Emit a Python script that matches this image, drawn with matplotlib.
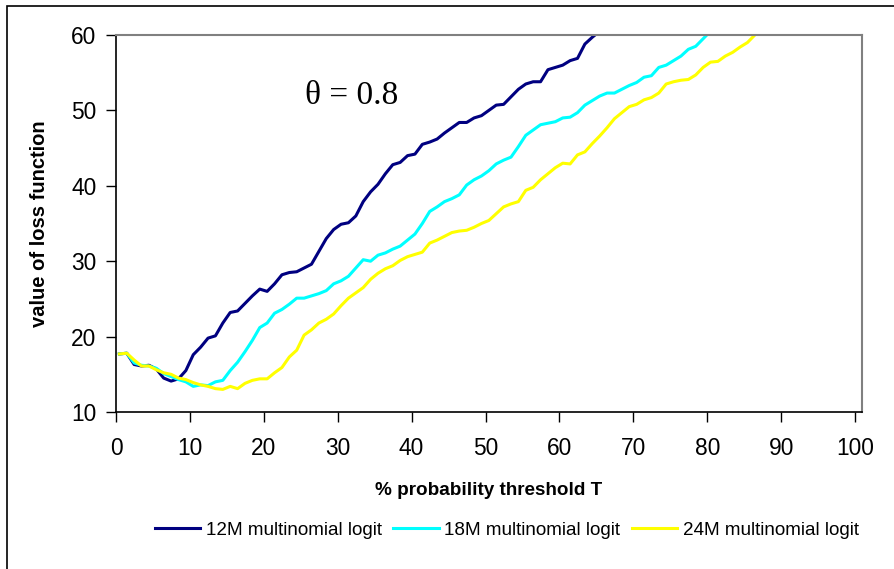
import numpy as np
import matplotlib
matplotlib.use("Agg")
import matplotlib.pyplot as plt
from matplotlib.patches import Rectangle

# loss function values, one per 1% threshold step
loss_12m = [17.7, 17.8, 16.3, 16.1, 16.2, 15.7, 14.5, 14.1, 14.4, 15.5,
            17.6, 18.6, 19.8, 20.1, 21.8, 23.2, 23.4, 24.4, 25.4, 26.3,
            26.0, 27.0, 28.2, 28.5, 28.6, 29.1, 29.6, 31.3, 33.0, 34.2,
            34.9, 35.1, 36.0, 37.9, 39.2, 40.2, 41.6, 42.8, 43.1, 44.0,
            44.2, 45.5, 45.8, 46.2, 47.0, 47.7, 48.4, 48.4, 49.0, 49.3,
            50.0, 50.7, 50.8, 51.8, 52.8, 53.5, 53.8, 53.8, 55.4, 55.7,
            56.0, 56.6, 56.9, 58.8, 59.7, 60.5, 61.0]
loss_18m = [17.7, 17.8, 16.5, 16.2, 16.1, 15.8, 15.1, 14.7, 14.3, 14.0,
            13.4, 13.6, 13.5, 14.0, 14.2, 15.5, 16.6, 18.0, 19.5, 21.2,
            21.8, 23.1, 23.6, 24.3, 25.1, 25.1, 25.4, 25.7, 26.1, 27.0,
            27.4, 28.0, 29.1, 30.2, 30.0, 30.8, 31.1, 31.6, 32.0, 32.8,
            33.6, 35.0, 36.6, 37.2, 37.9, 38.3, 38.8, 40.1, 40.8, 41.3,
            42.0, 42.9, 43.4, 43.8, 45.2, 46.7, 47.4, 48.1, 48.3, 48.5,
            49.0, 49.1, 49.7, 50.7, 51.3, 51.9, 52.3, 52.3, 52.8, 53.3,
            53.7, 54.4, 54.6, 55.7, 56.0, 56.6, 57.2, 58.1, 58.5, 59.5,
            60.5, 61.0]
loss_24m = [17.7, 17.8, 16.9, 16.1, 16.1, 15.6, 15.2, 15.0, 14.5, 14.3,
            13.9, 13.6, 13.4, 13.1, 13.0, 13.4, 13.1, 13.8, 14.2, 14.4,
            14.4, 15.2, 15.9, 17.3, 18.2, 20.2, 20.9, 21.8, 22.3, 23.0,
            24.1, 25.1, 25.8, 26.5, 27.6, 28.4, 29.0, 29.4, 30.1, 30.6,
            30.9, 31.2, 32.4, 32.8, 33.3, 33.8, 34.0, 34.1, 34.5, 35.0,
            35.4, 36.3, 37.2, 37.6, 37.9, 39.4, 39.8, 40.8, 41.6, 42.4,
            43.0, 42.9, 44.1, 44.5, 45.6, 46.6, 47.7, 48.9, 49.7, 50.5,
            50.8, 51.4, 51.7, 52.3, 53.5, 53.8, 54.0, 54.1, 54.7, 55.7,
            56.4, 56.5, 57.2, 57.7, 58.4, 59.0, 60.0, 60.8]

series = [
    ("12M multinomial logit", loss_12m, "#000080"),
    ("18M multinomial logit", loss_18m, "#00FFFF"),
    ("24M multinomial logit", loss_24m, "#FFFF00"),
]

x_ticks = [0, 10, 20, 30, 40, 50, 60, 70, 80, 90, 100]
y_ticks = [10, 20, 30, 40, 50, 60]

plt.rcParams['font.family'] = ['Liberation Sans', 'DejaVu Sans']

fig = plt.figure(figsize=(8.94, 5.69), dpi=100)
ax = fig.add_axes([0.1298, 0.2759, 0.8344, 0.6626])

for name, vals, col in series:
    t = np.arange(len(vals)) + 0.45
    ax.plot(t, vals, color=col, lw=2.2, label=name, solid_joinstyle='round')

ax.set_xlim(0, 100.95)
ax.set_ylim(10, 60)
ax.set_xticks(x_ticks)
ax.set_yticks(y_ticks)
ax.tick_params(direction='out', length=7, width=1, labelsize=16.4)
ax.tick_params(axis='x', pad=11)
ax.tick_params(axis='y', pad=7)

for s in ['left', 'bottom']:
    ax.spines[s].set_color('black')
    ax.spines[s].set_linewidth(1.2)
for s in ['top', 'right']:
    ax.spines[s].set_color('#808080')
    ax.spines[s].set_linewidth(1.5)

ax.set_xlabel("% probability threshold T", fontsize=13.6, fontweight='bold')
ax.set_ylabel("value of loss function", fontsize=14.5, fontweight='bold')
ax.xaxis.set_label_coords(0.5, -0.186)
ax.yaxis.set_label_coords(-0.0898, 0.5)

ax.text(25.6, 52.0, "\u03b8 = 0.8", fontsize=24, family='Liberation Serif',
        va='center', ha='left')

fig.legend(loc='center', bbox_to_anchor=(0.567, 0.0685), ncol=3,
           frameon=False, fontsize=13.6, handlelength=2.4, handletextpad=0.3,
           columnspacing=0.6)

# outer chart frame (left and top edges visible)
fig.add_artist(Rectangle((0.0078, -0.5), 2, 1.4895, transform=fig.transFigure,
                         fill=False, edgecolor='black', lw=1.2))

fig.savefig("out.png", dpi=100)
